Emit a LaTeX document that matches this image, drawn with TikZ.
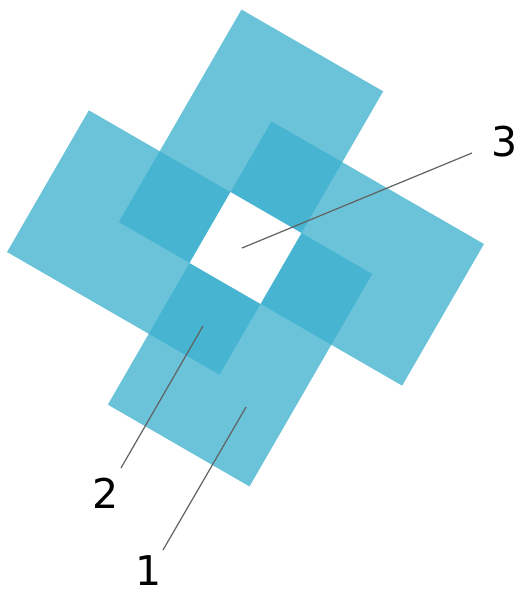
\documentclass[tikz,border=0pt]{standalone}
\usepackage{fontspec}
\setmainfont{DejaVu Sans}
\usepackage{tikz}
\definecolor{tile}{RGB}{60,176,206}

\begin{document}
\begin{tikzpicture}[x=0.5pt, y=0.5pt,
    tilebox/.style={fill=tile, fill opacity=0.76},
    lead/.style={draw=black!62, line width=0.6pt},
    num/.style={font=\fontsize{20.5}{24}\selectfont, inner sep=0pt},
  ]
  \useasboundingbox (0,0) rectangle (519,-592);

  % four translucent tiles round a square opening
  \begin{scope}[shift={(245.5,-248)}, rotate=-30, scale=81.8]
    \fill[tilebox] (-1.5,-0.5) rectangle (0.5,2.5);
    \fill[tilebox] (-0.5,-0.5) rectangle (2.5,1.5);
    \fill[tilebox] (-0.5,-2.5) rectangle (1.5,0.5);
    \fill[tilebox] (-2.5,-1.5) rectangle (0.5,0.5);
    \fill[white] (-0.5,-0.5) rectangle (0.5,0.5);
  \end{scope}

  \node[num] (n1) at (149,-571) {1};
  \node[num] (n2) at (106,-493.5) {2};
  \node[num] (n3) at (504.5,-142) {3};

  \coordinate (t1) at (163,-550);
  \coordinate (t2) at (121,-468);
  \coordinate (t3) at (472,-153);
  \coordinate (h1) at (246,-407);
  \coordinate (h2) at (203,-326);
  \coordinate (h3) at (242,-248);

  \draw[lead] (t1) -- (h1);
  \draw[lead] (t2) -- (h2);
  \draw[lead] (t3) -- (h3);
\end{tikzpicture}
\end{document}
